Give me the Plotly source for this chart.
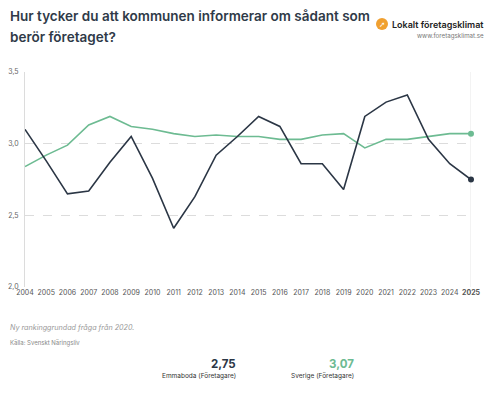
import plotly.graph_objects as go

years = list(range(2004, 2026))
emmaboda = [3.10, 2.88, 2.65, 2.67, 2.87, 3.05, 2.76, 2.41, 2.63, 2.92, 3.05,
            3.19, 3.12, 2.86, 2.86, 2.68, 3.19, 3.29, 3.34, 3.03, 2.86, 2.75]
sverige = [2.84, 2.92, 2.99, 3.13, 3.19, 3.12, 3.10, 3.07, 3.05, 3.06, 3.05,
           3.05, 3.03, 3.03, 3.06, 3.07, 2.97, 3.03, 3.03, 3.05, 3.07, 3.07]
y_ticks = [2.0, 2.5, 3.0, 3.5]
y_ticktext = ["2,0", "2,5", "3,0", "3,5"]
x_ticktext = [str(y) for y in years[:-1]] + ["<b>2025</b>"]

DARK = "#2b3645"
GREEN = "#6dbb92"
FONT = "Inter"

# plot area in window pixels: x 25..471, y 72..287
PX0, PX1, PY0, PY1 = 25, 471, 72, 287
PW, PH = PX1 - PX0, PY1 - PY0


def px(x):
    return (x - PX0) / PW


def py(y):
    return (PY1 - y) / PH


fig = go.Figure()
fig.add_trace(go.Scatter(x=years, y=sverige, mode="lines", line=dict(color=GREEN, width=1.6),
                         name="Sverige (Företagare)", hoverinfo="skip"))
fig.add_trace(go.Scatter(x=years, y=emmaboda, mode="lines", line=dict(color=DARK, width=1.6),
                         name="Emmaboda (Företagare)", hoverinfo="skip"))
fig.add_trace(go.Scatter(x=[years[-1]], y=[sverige[-1]], mode="markers", cliponaxis=False,
                         marker=dict(color=GREEN, size=6), hoverinfo="skip"))
fig.add_trace(go.Scatter(x=[years[-1]], y=[emmaboda[-1]], mode="markers", cliponaxis=False,
                         marker=dict(color=DARK, size=6), hoverinfo="skip"))

fig.add_shape(type="line", xref="x", yref="paper", x0=2025, x1=2025, y0=0, y1=1,
              line=dict(color="#e6e6e6", width=1), layer="below")

# page body has an 8px margin, compensate so the plot area lands on the target pixels
fig.update_layout(
    width=503, height=399,
    margin=dict(l=PX0 - 8, r=503 - PX1 + 8, t=PY0 - 8, b=399 - PY1 + 8, autoexpand=False),
    paper_bgcolor="white", plot_bgcolor="white",
    showlegend=False,
    font=dict(family=FONT, color="#555"),
    xaxis=dict(range=[2004, 2025], tickvals=years, ticktext=x_ticktext,
               showgrid=False, zeroline=False, showline=False, ticks="",
               tickfont=dict(size=7, color="#555"), fixedrange=True, automargin=False),
    yaxis=dict(range=[2.0, 3.5], tickvals=y_ticks, ticktext=y_ticktext,
               showgrid=True, gridcolor="#dcdcdc", griddash="dash", gridwidth=1,
               zeroline=False, showline=True, linecolor="#dcdcdc", linewidth=1,
               ticks="", tickfont=dict(size=7, color="#666"), ticklabelstandoff=4,
               fixedrange=True, automargin=False),
)


def txt(text, x, y, size, color, xanchor="left", weight="normal", italic=False, family=FONT):
    if italic:
        text = "<i>" + text + "</i>"
    return dict(text=text, x=px(x), y=py(y), xref="paper", yref="paper",
                showarrow=False, xanchor=xanchor, yanchor="middle", align="left",
                font=dict(size=size, color=color, family=family, weight=weight))


annotations = [
    txt("Hur tycker du att kommunen informerar om sådant som", 8, 16, 13.5, "#2f3a48", weight=600),
    txt("berör företaget?", 8, 37, 13.5, "#2f3a48", weight=600),
    txt("Lokalt företagsklimat", 486, 24, 9, "#222", xanchor="right", weight=600),
    txt("www.foretagsklimat.se", 486, 36, 6.2, "#777", xanchor="right"),
    txt("Ny rankinggrundad fråga från 2020.", 8, 327, 7.2, "#999", italic=True),
    txt("Källa: Svenskt Näringsliv", 8, 343, 6, "#888"),
    txt(f"{emmaboda[-1]:.2f}".replace(".", ","), 238, 364, 11.5, DARK, xanchor="right", weight=700),
    txt("Emmaboda (Företagare)", 238, 376, 6.5, "#333", xanchor="right"),
    txt(f"{sverige[-1]:.2f}".replace(".", ","), 356, 364, 11.5, GREEN, xanchor="right", weight=700),
    txt("Sverige (Företagare)", 356, 376, 6.5, "#333", xanchor="right"),
    txt("➚", 382, 24, 7.5, "white", xanchor="center", family="DejaVu Sans"),
]

# logo circle
fig.add_shape(type="circle", xref="paper", yref="paper",
              x0=px(376), x1=px(388), y0=py(30), y1=py(18),
              fillcolor="#f0a030", line=dict(width=0))
fig.update_layout(annotations=annotations)

fig.write_html("out.html")
